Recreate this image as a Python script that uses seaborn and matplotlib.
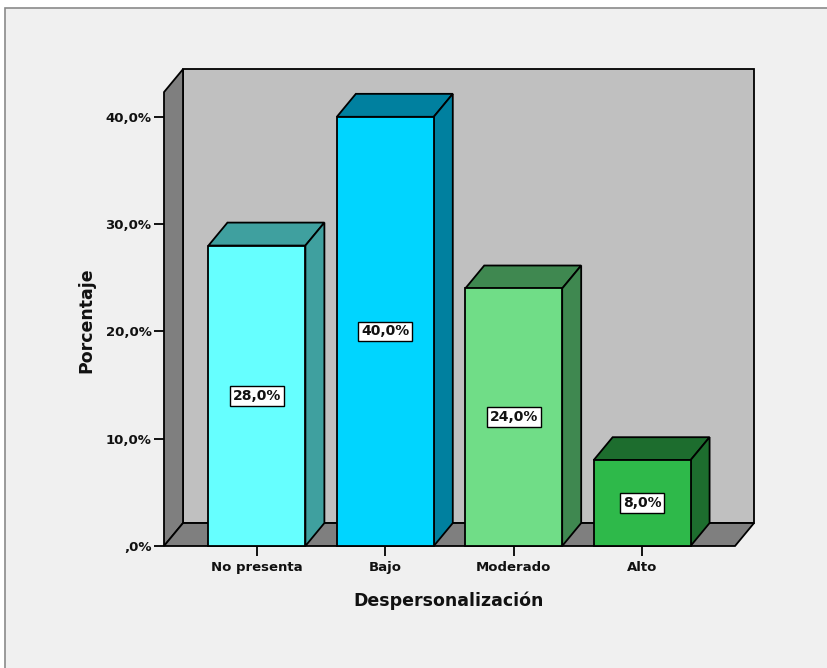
import matplotlib
matplotlib.use("Agg")
import matplotlib.pyplot as plt
from matplotlib.patches import Polygon, Rectangle
import seaborn as sns
import pandas as pd

# Chart data
categories = ["No presenta", "Bajo", "Moderado", "Alto"]
percentages = [28.0, 40.0, 24.0, 8.0]
front_colors = ["#66FFFF", "#00D5FF", "#70DD87", "#2EB94A"]
shade_colors = ["#3FA09F", "#00809F", "#3F8850", "#1D6D2E"]
y_ticks = [0, 10, 20, 30, 40]
y_tick_labels = [",0%", "10,0%", "20,0%", "30,0%", "40,0%"]

df = pd.DataFrame({"Despersonalización": categories, "Porcentaje": percentages})

sns.set_theme(style="white")
plt.rcParams["font.family"] = ["DejaVu Sans"]

W, H = 827, 668
fig = plt.figure(figsize=(W / 100, H / 100), dpi=100, facecolor="white")

# panel background with thin frame
panel = Rectangle((5 / W, -0.01), 1.02, (H - 8) / H + 0.01,
                  transform=fig.transFigure, facecolor="#F0F0F0",
                  edgecolor="#8A8A8A", linewidth=1.2, zorder=-10)
fig.add_artist(panel)

# axes geometry: pixel mapping x = 256.5 + 128.5*i, y = 546 - 10.73*v
x_left, x_right = -0.7237, 3.7237
ax_left_px, ax_right_px = 164, 770
ax_bot_px, ax_top_px = 546, 60
xmin = x_left
xmax = (ax_right_px - 256.5) / 128.5
ymin = 0
ymax = (546 - ax_top_px) / 10.73
ax = fig.add_axes([ax_left_px / W, (H - ax_bot_px) / H,
                   (ax_right_px - ax_left_px) / W, (ax_bot_px - ax_top_px) / H])
ax.set_facecolor("none")
ax.set_zorder(1)

bar_w = 0.755
dx, dy = 0.148, 2.14
wall_top = 42.3
edge = dict(edgecolor="black", linewidth=1.3)

# back wall, left wall and floor of the 3D frame
ax.add_patch(Polygon([(x_left + dx, dy), (x_right + dx, dy),
                      (x_right + dx, wall_top + dy), (x_left + dx, wall_top + dy)],
                     closed=True, facecolor="#C0C0C0", zorder=1, clip_on=False, **edge))
ax.add_patch(Polygon([(x_left, 0), (x_left, wall_top), (x_left + dx, wall_top + dy),
                      (x_left + dx, dy)],
                     closed=True, facecolor="#7F7F7F", zorder=1.1, clip_on=False, **edge))
ax.add_patch(Polygon([(x_left, 0), (x_right, 0), (x_right + dx, dy), (x_left + dx, dy)],
                     closed=True, facecolor="#7F7F7F", zorder=1.2, clip_on=False, **edge))

# front faces of the bars
sns.barplot(data=df, x="Despersonalización", y="Porcentaje", hue="Despersonalización",
            palette=front_colors, width=bar_w, saturation=1, legend=False, ax=ax,
            edgecolor="black", linewidth=1.3)
for bar in [p for p in ax.patches if isinstance(p, Rectangle)]:
    bar.set_zorder(3)
    bar.set_clip_on(False)

# top and side faces of each bar
for i, (v, sc) in enumerate(zip(percentages, shade_colors)):
    x0, x1 = i - bar_w / 2, i + bar_w / 2
    ax.add_patch(Polygon([(x0, v), (x1, v), (x1 + dx, v + dy), (x0 + dx, v + dy)],
                         closed=True, facecolor=sc, zorder=2.5, clip_on=False, **edge))
    ax.add_patch(Polygon([(x1, 0), (x1 + dx, dy), (x1 + dx, v + dy), (x1, v)],
                         closed=True, facecolor=sc, zorder=2.5, clip_on=False, **edge))
    ax.text(i, v / 2, f"{v:.1f}%".replace(".", ","), ha="center", va="center",
            fontsize=10, fontweight="bold", color="#111111", zorder=5,
            bbox=dict(boxstyle="square,pad=0.2", facecolor="white",
                      edgecolor="black", linewidth=1.0))

ax.set_xlim(xmin, xmax)
ax.set_ylim(ymin, ymax)
for s in ax.spines.values():
    s.set_visible(False)

ax.set_yticks(y_ticks)
ax.set_yticklabels(y_tick_labels)
ax.set_xticks(range(len(categories)))
ax.set_xticklabels(categories)
ax.tick_params(axis="y", left=True, length=7, width=1.3, color="black", pad=2,
               labelsize=9.5, labelcolor="#111111")
ax.tick_params(axis="x", bottom=True, length=7, width=1.3, color="black", pad=4,
               labelsize=9.5, labelcolor="#111111")
for lab in ax.get_xticklabels() + ax.get_yticklabels():
    lab.set_fontweight("bold")

ax.set_xlabel("Despersonalización", fontsize=12.5, fontweight="bold", color="#111111")
ax.set_ylabel("Porcentaje", fontsize=12.5, fontweight="bold", color="#111111")
ax.xaxis.set_label_coords((449 - ax_left_px) / (ax_right_px - ax_left_px),
                          -(601 - ax_bot_px) / (ax_bot_px - ax_top_px))
ax.xaxis.label.set_va("center")
ax.yaxis.set_label_coords(-(164 - 86) / (ax_right_px - ax_left_px),
                          (546 - 320) / (ax_bot_px - ax_top_px))
ax.yaxis.label.set_va("center")

fig.savefig("out.png", dpi=100, facecolor=fig.get_facecolor())
